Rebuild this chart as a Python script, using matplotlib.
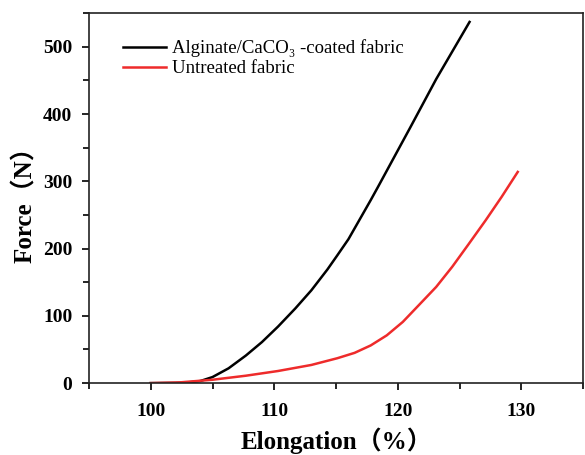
import matplotlib
matplotlib.use('Agg')

import matplotlib.pyplot as plt
from matplotlib.ticker import MultipleLocator

# Serif text, with a CJK fallback for the full-width brackets in the axis labels
plt.rcParams['font.family'] = ['Liberation Serif', 'Noto Sans CJK SC']

# --- tensile curves: elongation (%) vs force (N) ---
coated_elong = [100, 102, 103, 104, 105, 106.3, 107.7, 109, 110.3, 111.7,
                113, 114.3, 115.1, 116, 117.8, 118.4, 121, 123.1, 125.8]
coated_force = [0, 0.3, 1, 3, 9, 22, 41, 61, 84, 111,
                138, 169, 190, 214, 272, 292, 380, 452, 537]

untreated_elong = [100, 102.3, 105, 107.7, 110.3, 113, 115.1, 116.5, 117.8,
                   119.1, 120.4, 121.7, 123.1, 124.4, 125.7, 127.1, 128.4, 129.7]
untreated_force = [0, 1, 5, 11, 18, 27, 37, 45, 56,
                   71, 91, 116, 143, 173, 206, 242, 277, 314]

x_ticks = [100, 110, 120, 130]
y_ticks = [0, 100, 200, 300, 400, 500]

fig = plt.figure(figsize=(5.85, 4.55), dpi=100)
ax = fig.add_axes([0.152, 0.158, 0.845, 0.813])

ax.plot(coated_elong, coated_force, color='black', lw=1.8,
        label='Alginate/CaCO\u2083 -coated fabric')
ax.plot(untreated_elong, untreated_force, color='#ee2b2b', lw=1.8,
        label='Untreated fabric')

ax.set_xlim(95, 135)
ax.set_ylim(0, 550)
ax.set_xticks(x_ticks)
ax.set_yticks(y_ticks)
ax.xaxis.set_minor_locator(MultipleLocator(5))
ax.yaxis.set_minor_locator(MultipleLocator(50))

for s in ax.spines.values():
    s.set_linewidth(1.2)
    s.set_color('#222222')
ax.tick_params(which='major', direction='out', length=5, width=1.2,
               labelsize=14, pad=7)
ax.tick_params(axis='x', which='major', pad=9)
ax.tick_params(which='minor', direction='out', length=4, width=1.2)
for lbl in ax.get_xticklabels() + ax.get_yticklabels():
    lbl.set_fontweight('bold')

ax.set_xlabel('Elongation\uff08%\uff09', fontsize=18, fontweight='bold', labelpad=6)
ax.set_ylabel('Force\uff08N\uff09', fontsize=18, fontweight='bold', labelpad=4)

ax.legend(loc='upper left', frameon=False, fontsize=13.5, handlelength=2.3,
          handletextpad=0.3, labelspacing=0.15,
          bbox_to_anchor=(0.035, 0.975))

fig.savefig('out.png', dpi=100)
